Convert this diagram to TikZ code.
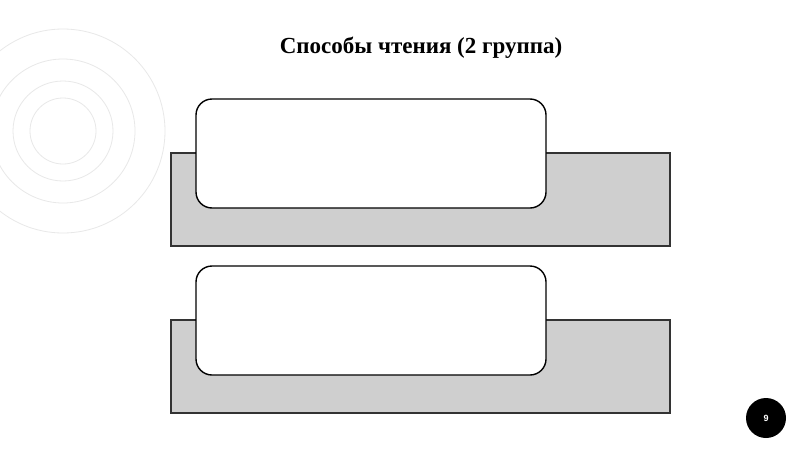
\documentclass[tikz,border=0pt]{standalone}
\usepackage{fontspec}
\setmainfont{Liberation Serif}
\setsansfont{Liberation Sans}
\begin{document}
\begin{tikzpicture}[x=1pt,y=-1pt,
  ring/.style={draw=black!9,line width=0.8pt},
  backbox/.style={draw=black!80,fill=black!19,line width=1.4pt},
  frontbox/.style={draw=black,fill=white,line width=1.4pt,rounded corners=16pt}]
\useasboundingbox[fill=white] (0,0) rectangle (800,450);
% decorative rings
\foreach \r in {33,50,72,102} \draw[ring] (63,131) circle (\r);
% title
\node (title) at (421,48) {\fontsize{23}{26}\selectfont\bfseries Способы чтения (2 группа)};
% top group
\draw[backbox] (171,153) rectangle (670,246);
\node[frontbox,minimum width=350pt,minimum height=109pt,inner sep=0pt] (t1) at (371,153.5) {};
% bottom group
\draw[backbox] (171,320) rectangle (670,413);
\node[frontbox,minimum width=350pt,minimum height=109pt,inner sep=0pt] (t2) at (371,320.5) {};
% page number
\node[circle,fill=black,minimum size=40pt,inner sep=0pt,text=white,font=\sffamily\bfseries\fontsize{9}{10}\selectfont] (pg) at (766,418) {9};
\end{tikzpicture}
\end{document}
